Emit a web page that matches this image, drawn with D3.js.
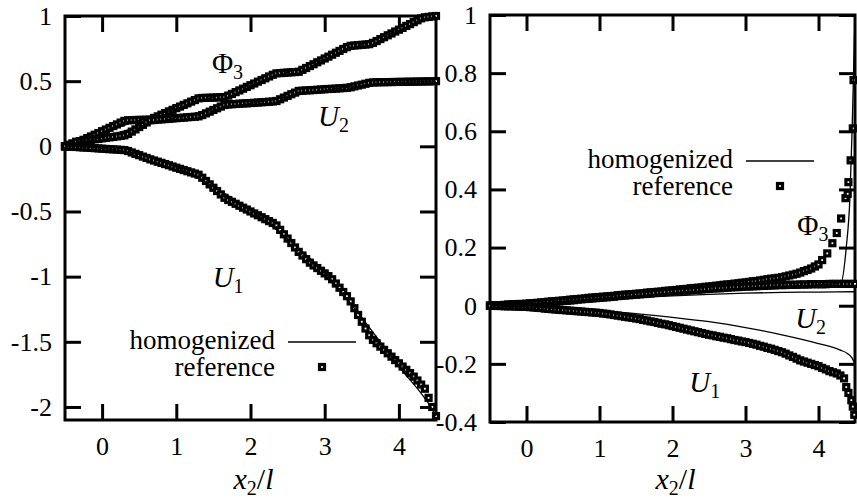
<!DOCTYPE html>
<html>
<head>
<meta charset="utf-8">
<script src="https://cdn.jsdelivr.net/npm/d3@7"></script>
<style>
  body { margin: 0; background: #fff; }
</style>
</head>
<body>
<svg id="chart" width="857" height="500"></svg>
<script>
// ---- data ----
const xTicks = [0, 1, 2, 3, 4];
const leftYTicks = [-2, -1.5, -1, -0.5, 0, 0.5, 1];
const rightYTicks = [-0.4, -0.2, 0, 0.2, 0.4, 0.6, 0.8, 1];
const legendLabels = ['homogenized', 'reference'];

// sampling positions of the reference solution (x2/l)
const gridX = [-0.5,-0.45,-0.4,-0.35,-0.3,-0.25,-0.2,-0.15,-0.1,-0.05,
  0,0.05,0.1,0.15,0.2,0.25,0.3,0.35,0.4,0.45,
  0.5,0.55,0.6,0.65,0.7,0.75,0.8,0.85,0.9,0.95,
  1,1.05,1.1,1.15,1.2,1.25,1.3,1.35,1.4,1.45,
  1.5,1.55,1.6,1.65,1.7,1.75,1.8,1.85,1.9,1.95,
  2,2.05,2.1,2.15,2.2,2.25,2.3,2.35,2.4,2.45,
  2.5,2.55,2.6,2.65,2.7,2.75,2.8,2.85,2.9,2.95,
  3,3.05,3.1,3.15,3.2,3.25,3.3,3.35,3.4,3.45,
  3.5,3.55,3.6,3.65,3.7,3.75,3.8,3.85,3.9,3.95,
  4,4.05,4.1,4.15,4.2,4.25,4.3,4.35,4.4,4.45,
  4.5];

// left panel, reference
const leftPhi3 = [0,0.005,0.01,0.023,0.036,0.05,0.063,0.076,0.089,0.102,
  0.116,0.129,0.142,0.155,0.168,0.182,0.195,0.2,0.201,0.202,
  0.203,0.203,0.204,0.205,0.218,0.23,0.243,0.255,0.268,0.28,
  0.293,0.305,0.318,0.33,0.343,0.355,0.368,0.371,0.372,0.373,
  0.374,0.375,0.377,0.378,0.389,0.402,0.416,0.429,0.442,0.456,
  0.469,0.482,0.496,0.509,0.522,0.536,0.549,0.56,0.562,0.564,
  0.566,0.568,0.57,0.572,0.587,0.601,0.616,0.63,0.645,0.659,
  0.674,0.688,0.703,0.718,0.732,0.747,0.761,0.771,0.774,0.776,
  0.779,0.781,0.784,0.794,0.808,0.823,0.837,0.852,0.866,0.881,
  0.895,0.909,0.924,0.938,0.953,0.967,0.982,0.99,0.993,0.997,
  1.0];
const leftU2 = [0,0.012,0.023,0.035,0.039,0.042,0.046,0.05,0.054,0.057,
  0.061,0.065,0.069,0.072,0.076,0.08,0.084,0.095,0.113,0.13,
  0.148,0.165,0.183,0.2,0.202,0.205,0.207,0.209,0.211,0.214,
  0.216,0.218,0.22,0.223,0.225,0.227,0.23,0.24,0.253,0.266,
  0.279,0.292,0.305,0.317,0.321,0.323,0.325,0.327,0.329,0.33,
  0.332,0.334,0.336,0.338,0.34,0.342,0.344,0.348,0.361,0.374,
  0.387,0.4,0.412,0.425,0.427,0.429,0.43,0.432,0.434,0.436,
  0.438,0.44,0.441,0.443,0.445,0.447,0.449,0.453,0.46,0.467,
  0.473,0.48,0.487,0.49,0.491,0.492,0.492,0.493,0.493,0.494,
  0.494,0.495,0.495,0.496,0.496,0.497,0.497,0.498,0.498,0.499,
  0.5];
const leftU1 = [0,-0.002,-0.003,-0.005,-0.007,-0.009,-0.01,-0.012,-0.014,-0.016,
  -0.018,-0.02,-0.022,-0.023,-0.025,-0.027,-0.029,-0.036,-0.047,-0.058,
  -0.068,-0.079,-0.089,-0.1,-0.109,-0.118,-0.127,-0.136,-0.145,-0.155,
  -0.164,-0.173,-0.182,-0.191,-0.2,-0.209,-0.218,-0.241,-0.266,-0.292,
  -0.318,-0.343,-0.369,-0.395,-0.412,-0.426,-0.441,-0.456,-0.471,-0.485,
  -0.5,-0.515,-0.529,-0.544,-0.559,-0.574,-0.588,-0.607,-0.641,-0.675,
  -0.708,-0.742,-0.776,-0.81,-0.838,-0.866,-0.893,-0.914,-0.934,-0.955,
  -0.975,-0.996,-1.02,-1.053,-1.085,-1.118,-1.15,-1.19,-1.242,-1.294,
  -1.346,-1.398,-1.45,-1.485,-1.511,-1.537,-1.562,-1.588,-1.614,-1.64,
  -1.665,-1.69,-1.715,-1.74,-1.767,-1.797,-1.828,-1.86,-1.93,-2.0,
  -2.07];

// left panel, homogenized
const leftHomX = [-0.5,0,0.5,1,1.5,2,2.5,3,3.5,4,4.5];
const leftHomPhi3 = [0,0.1,0.2,0.29,0.38,0.47,0.57,0.67,0.78,0.89,1.0];
const leftHomU2 = [0,0.07,0.15,0.22,0.28,0.33,0.38,0.43,0.465,0.49,0.5];
const leftHomU1X = [-0.5,0,0.5,1,1.5,2,2.5,3,3.37,4,4.45,4.5];
const leftHomU1 = [0,-0.015,-0.06,-0.16,-0.31,-0.49,-0.71,-0.97,-1.22,-1.69,-2.02,-2.07];

// right panel, reference
const rightPhi3X = gridX.slice(0, 91).concat([4.05,4.12,4.19,4.25,4.31,4.37,4.40,4.41,4.44,4.47,4.48]);
const rightPhi3 = [0,0.001,0.001,0.002,0.003,0.004,0.004,0.005,0.006,0.006,
  0.007,0.008,0.009,0.01,0.011,0.012,0.014,0.015,0.016,0.017,
  0.018,0.019,0.021,0.022,0.023,0.024,0.025,0.027,0.028,0.029,
  0.03,0.031,0.032,0.033,0.034,0.036,0.037,0.038,0.039,0.04,
  0.041,0.042,0.043,0.045,0.046,0.047,0.048,0.049,0.051,0.052,
  0.053,0.054,0.056,0.057,0.058,0.06,0.061,0.062,0.063,0.065,
  0.066,0.067,0.069,0.07,0.072,0.073,0.074,0.076,0.077,0.079,
  0.08,0.082,0.084,0.085,0.087,0.089,0.091,0.093,0.094,0.096,
  0.098,0.101,0.104,0.107,0.11,0.114,0.119,0.123,0.128,0.135,
  0.142,
  0.157,0.18,0.215,0.25,0.3,0.37,0.385,0.425,0.5,0.61,0.776];
const rightU2 = [0,0.001,0.001,0.002,0.002,0.003,0.004,0.004,0.005,0.005,
  0.006,0.007,0.008,0.009,0.01,0.011,0.012,0.013,0.014,0.015,
  0.016,0.017,0.018,0.019,0.021,0.022,0.023,0.024,0.025,0.026,
  0.027,0.028,0.029,0.03,0.031,0.033,0.034,0.035,0.036,0.037,
  0.038,0.039,0.04,0.041,0.042,0.044,0.045,0.046,0.047,0.048,
  0.049,0.05,0.051,0.052,0.052,0.053,0.054,0.055,0.056,0.057,
  0.058,0.059,0.06,0.06,0.061,0.062,0.063,0.064,0.064,0.065,
  0.066,0.066,0.067,0.067,0.068,0.068,0.069,0.07,0.07,0.071,
  0.071,0.071,0.072,0.072,0.072,0.073,0.073,0.073,0.074,0.074,
  0.074,0.074,0.074,0.075,0.075,0.075,0.075,0.075,0.075,0.075,
  0.075];
const rightU1X = gridX.slice(0, 98).concat([4.38,4.41,4.45,4.47,4.49]);
const rightU1 = [0,0,-0.001,-0.001,-0.002,-0.002,-0.002,-0.003,-0.003,-0.004,
  -0.004,-0.005,-0.006,-0.007,-0.008,-0.01,-0.011,-0.012,-0.013,-0.014,
  -0.015,-0.016,-0.017,-0.018,-0.019,-0.02,-0.021,-0.022,-0.023,-0.024,
  -0.025,-0.027,-0.028,-0.03,-0.032,-0.034,-0.036,-0.038,-0.04,-0.042,
  -0.044,-0.046,-0.049,-0.051,-0.054,-0.056,-0.059,-0.062,-0.064,-0.067,
  -0.07,-0.073,-0.076,-0.079,-0.082,-0.085,-0.088,-0.091,-0.094,-0.097,
  -0.1,-0.102,-0.105,-0.107,-0.11,-0.112,-0.115,-0.118,-0.12,-0.123,
  -0.125,-0.128,-0.131,-0.134,-0.138,-0.141,-0.145,-0.148,-0.152,-0.156,
  -0.16,-0.165,-0.171,-0.176,-0.182,-0.188,-0.192,-0.196,-0.2,-0.204,
  -0.208,-0.214,-0.219,-0.225,-0.229,-0.233,-0.24,-0.25,
  -0.28,-0.3,-0.325,-0.347,-0.375];

// right panel, homogenized
const rightHomPhi3X = [-0.5,0,0.5,1,1.5,2,2.5,3,3.5,4,4.2,4.31,4.38,4.43,4.46,4.48,4.5];
const rightHomPhi3 = [0,0.006,0.015,0.025,0.034,0.043,0.052,0.06,0.067,0.072,0.075,0.08,0.2,0.37,0.6,0.8,1.0];
const rightHomU2X = [-0.5,0,0.5,1,1.5,2,2.5,3,3.5,4,4.5];
const rightHomU2 = [0,0.005,0.013,0.021,0.028,0.034,0.039,0.043,0.046,0.047,0.048];
const rightHomU1X = [-0.5,0,0.5,1,1.5,2,2.5,3,3.19,3.5,4,4.29,4.4,4.46,4.5];
const rightHomU1 = [0,-0.004,-0.01,-0.018,-0.027,-0.04,-0.055,-0.075,-0.084,-0.1,-0.13,-0.152,-0.165,-0.18,-0.2];

// ---- drawing ----
const FONT = "'Liberation Serif', 'Times New Roman', serif";
const svg = d3.select('#chart').style('font-family', FONT);
const tickLen = 16;
const sq = 5;   // marker inner size

function drawPanel(p) {
    const g = svg.append('g');
    const x = d3.scaleLinear().domain([-0.5, 4.5]).range(p.xRange);
    const y = d3.scaleLinear().domain(p.yDomain).range(p.yRange);
    const [x0, x1] = p.xRange;
    const [y0, y1] = p.yRange;

    const styleAxis = sel => {
        sel.attr('font-family', null).attr('font-size', null)
            .style('font-family', FONT).style('font-size', '26px');
        sel.select('.domain').remove();
        sel.selectAll('line').attr('stroke', '#000').attr('stroke-width', 3);
        sel.selectAll('text')
            .attr('fill', '#000')
            .style('font-family', FONT)
            .style('font-size', '26px');
    };

    g.append('g')
        .attr('transform', `translate(0, ${y0})`)
        .call(d3.axisBottom(x).tickValues(xTicks).tickSize(-tickLen).tickPadding(17).tickFormat(d => String(d)))
        .call(styleAxis);
    g.append('g')
        .attr('transform', `translate(0, ${y1})`)
        .call(d3.axisTop(x).tickValues(xTicks).tickSize(-tickLen).tickFormat(''))
        .call(styleAxis);
    g.append('g')
        .attr('transform', `translate(${x0}, 0)`)
        .call(d3.axisLeft(y).tickValues(p.yTicks).tickSize(-tickLen).tickPadding(13).tickFormat(d => String(d)))
        .call(styleAxis);
    g.append('g')
        .attr('transform', `translate(${x1}, 0)`)
        .call(d3.axisRight(y).tickValues(p.yTicks).tickSize(-tickLen).tickFormat(''))
        .call(styleAxis);

    g.append('rect')
        .attr('x', x0).attr('y', y1)
        .attr('width', x1 - x0).attr('height', y0 - y1)
        .attr('fill', 'none').attr('stroke', '#000').attr('stroke-width', 3);

    // reference squares
    p.reference.forEach(s => {
        g.append('g')
            .selectAll('rect')
            .data(d3.zip(s.x, s.y))
            .join('rect')
            .attr('x', d => x(d[0]) - sq / 2)
            .attr('y', d => y(d[1]) - sq / 2)
            .attr('width', sq)
            .attr('height', sq)
            .attr('fill', '#fff')
            .attr('stroke', '#000')
            .attr('stroke-width', 3.2);
    });

    // homogenized lines
    const line = d3.line()
        .x(d => x(d[0]))
        .y(d => y(d[1]))
        .curve(d3.curveMonotoneX);
    p.homogenized.forEach(s => {
        g.append('path')
            .datum(d3.zip(s.x, s.y))
            .attr('fill', 'none')
            .attr('stroke', '#000')
            .attr('stroke-width', 1.3)
            .attr('d', line);
    });

    // curve labels
    p.labels.forEach(l => {
        const t = g.append('text')
            .attr('x', x(l.at[0]))
            .attr('y', y(l.at[1]))
            .style('font-family', FONT)
            .style('font-size', '29px');
        t.append('tspan').style('font-style', l.italic ? 'italic' : 'normal').text(l.main);
        t.append('tspan').attr('dy', 6).style('font-size', '20px').text(l.sub);
    });

    // axis title x2/l
    const title = g.append('text')
        .attr('x', (x0 + x1) / 2 + 3)
        .attr('y', 489)
        .attr('text-anchor', 'middle')
        .style('font-family', FONT)
        .style('font-size', '30px');
    title.append('tspan').style('font-style', 'italic').text('x');
    title.append('tspan').attr('dy', 6).style('font-size', '20px').text('2');
    title.append('tspan').attr('dy', -6).text('/');
    title.append('tspan').style('font-style', 'italic').text('l');

    // legend
    const lg = g.append('g').attr('transform', `translate(${p.legend[0]}, ${p.legend[1]})`);
    lg.selectAll('text')
        .data(legendLabels)
        .join('text')
        .attr('x', 0)
        .attr('y', (d, i) => 7 + i * 27)
        .attr('text-anchor', 'end')
        .style('font-family', FONT)
        .style('font-size', '27px')
        .text(d => d);
    lg.append('line')
        .attr('x1', 13).attr('x2', 81)
        .attr('y1', 0).attr('y2', 0)
        .attr('stroke', '#000').attr('stroke-width', 1.3);
    lg.append('rect')
        .attr('x', 47 - sq / 2).attr('y', 25 - sq / 2)
        .attr('width', sq).attr('height', sq)
        .attr('fill', '#fff').attr('stroke', '#000').attr('stroke-width', 3.2);
}

drawPanel({
    xRange: [65, 436],
    yDomain: [-2.1, 1],
    yRange: [420, 16],
    yTicks: leftYTicks,
    reference: [
        { x: gridX, y: leftPhi3 },
        { x: gridX, y: leftU2 },
        { x: gridX, y: leftU1 }
    ],
    homogenized: [
        { x: leftHomX, y: leftHomPhi3 },
        { x: leftHomX, y: leftHomU2 },
        { x: leftHomU1X, y: leftHomU1 }
    ],
    labels: [
        { main: 'Φ', sub: '3', italic: false, at: [1.48, 0.562] },
        { main: 'U', sub: '2', italic: true, at: [2.91, 0.156] },
        { main: 'U', sub: '1', italic: true, at: [1.49, -1.08] }
    ],
    legend: [275, 342]
});

drawPanel({
    xRange: [490, 855],
    yDomain: [-0.4, 1],
    yRange: [422, 15],
    yTicks: rightYTicks,
    reference: [
        { x: rightPhi3X, y: rightPhi3 },
        { x: gridX, y: rightU2 },
        { x: rightU1X, y: rightU1 }
    ],
    homogenized: [
        { x: rightHomPhi3X, y: rightHomPhi3 },
        { x: rightHomU2X, y: rightHomU2 },
        { x: rightHomU1X, y: rightHomU1 }
    ],
    labels: [
        { main: 'Φ', sub: '3', italic: false, at: [3.71, 0.243] },
        { main: 'U', sub: '2', italic: true, at: [3.68, -0.077] },
        { main: 'U', sub: '1', italic: true, at: [2.23, -0.297] }
    ],
    legend: [733, 161]
});
</script>
</body>
</html>
